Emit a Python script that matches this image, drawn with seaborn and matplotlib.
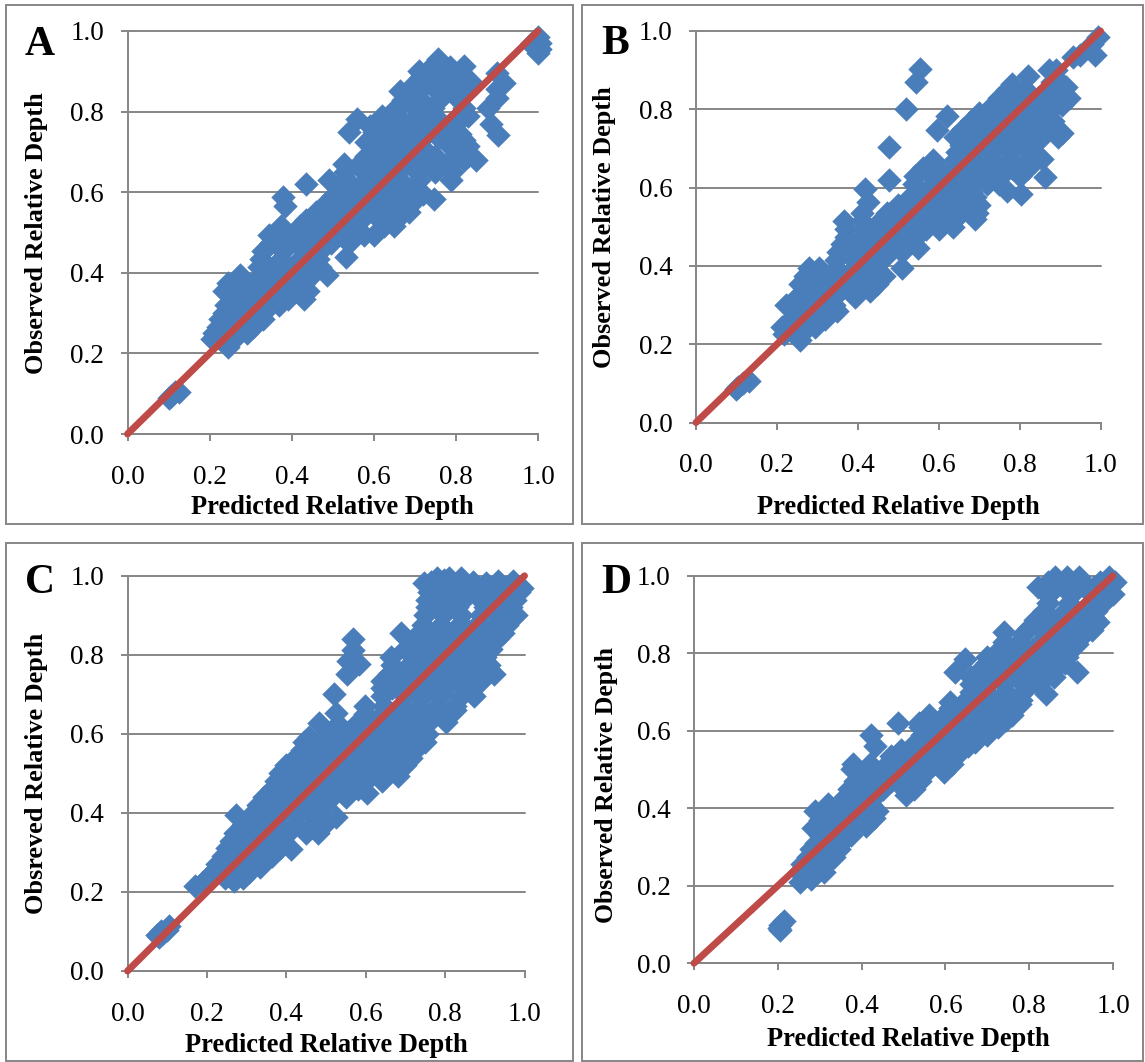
import matplotlib
matplotlib.use("Agg")
import matplotlib.pyplot as plt
from matplotlib.patches import Rectangle
import pandas as pd
import seaborn as sns

# values: (predicted, observed)
a_points = [
    (.10, .09), (.105, .095), (.115, .105), (.125, .105),
    (.245, .215), (.205, .235), (.225, .235), (.26, .235),
    (.21, .25), (.25, .25), (.29, .25), (.22, .265), (.265, .265), (.305, .265),
    (.225, .285), (.27, .285), (.315, .285), (.33, .285),
    (.235, .30), (.285, .30), (.33, .30), (.24, .32), (.285, .32), (.33, .32), (.37, .32),
    (.26, .335), (.305, .335), (.35, .335), (.39, .335), (.43, .335),
    (.235, .355), (.28, .355), (.325, .355), (.37, .355), (.41, .355), (.44, .355),
    (.245, .375), (.29, .375), (.34, .375), (.385, .375), (.43, .375),
    (.275, .395), (.325, .395), (.37, .395), (.415, .395), (.45, .395), (.487, .395),
    (.32, .415), (.36, .415), (.405, .415), (.45, .415), (.47, .415),
    (.325, .435), (.375, .435), (.42, .435), (.465, .435), (.532, .44),
    (.33, .455), (.38, .455), (.43, .455), (.47, .455),
    (.35, .475), (.395, .475), (.44, .475), (.495, .475), (.54, .475),
    (.345, .495), (.385, .495), (.43, .495), (.475, .495), (.52, .495), (.575, .495), (.60, .495),
    (.375, .515), (.42, .515), (.465, .515), (.51, .515), (.555, .515), (.625, .515), (.65, .515),
    (.435, .53), (.48, .53), (.525, .53), (.57, .53), (.615, .53), (.655, .53),
    (.46, .55), (.505, .55), (.55, .55), (.595, .55), (.64, .55), (.685, .55),
    (.384, .565), (.48, .57), (.52, .57), (.565, .57), (.61, .57), (.655, .57), (.69, .57),
    (.747, .583), (.38, .589), (.50, .59), (.545, .59), (.59, .59), (.635, .59), (.68, .59), (.72, .595),
    (.52, .61), (.565, .61), (.61, .61), (.65, .61), (.695, .61), (.436, .62),
    (.49, .63), (.535, .63), (.58, .63), (.625, .63), (.665, .63), (.71, .63), (.787, .63),
    (.53, .65), (.575, .65), (.62, .65), (.66, .65), (.705, .65), (.75, .65), (.79, .65),
    (.527, .67), (.565, .67), (.61, .67), (.65, .67), (.695, .67), (.74, .67), (.78, .67), (.82, .68), (.85, .68),
    (.58, .69), (.625, .69), (.665, .69), (.71, .69), (.75, .69), (.795, .69), (.83, .69),
    (.60, .71), (.64, .71), (.68, .71), (.72, .71), (.79, .71), (.83, .715),
    (.58, .725), (.62, .73), (.66, .73), (.70, .73), (.76, .735), (.79, .73), (.82, .73),
    (.54, .75), (.60, .75), (.645, .75), (.69, .75), (.735, .75), (.78, .75), (.81, .745),
    (.59, .765), (.625, .77), (.67, .77), (.715, .77), (.76, .77), (.80, .77), (.885, .77),
    (.56, .782), (.62, .79), (.66, .79), (.705, .79), (.75, .79), (.805, .79), (.83, .79),
    (.655, .81), (.70, .81), (.745, .81), (.82, .81), (.877, .81), (.903, .742),
    (.67, .83), (.715, .83), (.76, .83), (.80, .835), (.90, .834),
    (.665, .85), (.71, .85), (.755, .85), (.795, .85), (.835, .855), (.90, .855),
    (.68, .845), (.70, .87), (.745, .87), (.79, .87), (.835, .875), (.917, .872),
    (.715, .885), (.76, .89), (.80, .89), (.90, .897), (.71, .90), (.74, .91), (.785, .91), (.82, .914), (.757, .93),
    (.985, .97), (.99, .96), (1.0, .985), (1.005, .97), (1.005, .955), (1.0, .945),
]

b_points = [
    (.10, .085), (.105, .09), (.115, .10), (.13, .105),
    (.256, .21), (.217, .225), (.26, .225), (.213, .245), (.255, .245), (.295, .245),
    (.235, .265), (.28, .265), (.32, .265), (.24, .285), (.285, .285), (.33, .285), (.348, .285),
    (.222, .30), (.265, .30), (.31, .30), (.34, .30), (.25, .32), (.295, .32), (.34, .32), (.393, .32),
    (.27, .335), (.31, .335), (.355, .335), (.40, .335), (.43, .335),
    (.258, .355), (.30, .355), (.34, .355), (.385, .355), (.43, .355), (.447, .355),
    (.27, .375), (.315, .375), (.36, .375), (.405, .375), (.45, .375), (.465, .375),
    (.28, .395), (.305, .395), (.345, .395), (.39, .395), (.435, .395), (.51, .395),
    (.345, .415), (.39, .415), (.43, .415), (.465, .42),
    (.35, .435), (.395, .435), (.44, .435), (.48, .44), (.51, .435),
    (.361, .455), (.405, .455), (.45, .455), (.495, .455), (.525, .46), (.55, .445),
    (.37, .475), (.41, .475), (.455, .475), (.50, .475), (.545, .475),
    (.37, .495), (.42, .495), (.46, .495), (.505, .495), (.55, .495), (.568, .495), (.60, .495), (.635, .50),
    (.366, .515), (.41, .515), (.455, .515), (.50, .515), (.545, .515), (.59, .515), (.635, .515), (.689, .519),
    (.41, .535), (.473, .535), (.52, .535), (.565, .535), (.61, .535), (.655, .535), (.695, .535),
    (.424, .563), (.50, .555), (.545, .555), (.59, .555), (.635, .555), (.68, .555), (.70, .555),
    (.53, .575), (.575, .575), (.62, .575), (.665, .575), (.69, .575),
    (.418, .596), (.77, .592), (.804, .583), (.55, .59), (.595, .59), (.64, .59), (.68, .59),
    (.54, .61), (.585, .61), (.63, .61), (.675, .61), (.72, .61), (.75, .61), (.476, .62),
    (.541, .63), (.58, .63), (.625, .63), (.67, .63), (.71, .63), (.755, .63), (.80, .63), (.862, .627),
    (.56, .65), (.60, .65), (.645, .65), (.69, .65), (.735, .65), (.78, .65), (.82, .65),
    (.586, .67), (.64, .67), (.685, .67), (.73, .67), (.775, .67), (.82, .67), (.855, .672),
    (.645, .69), (.69, .69), (.735, .69), (.78, .69), (.83, .69), (.476, .703),
    (.655, .71), (.70, .71), (.745, .71), (.79, .71), (.835, .71),
    (.64, .73), (.68, .73), (.72, .73), (.765, .73), (.81, .73), (.84, .73), (.865, .74), (.895, .73),
    (.597, .748), (.66, .75), (.70, .75), (.745, .75), (.79, .75), (.835, .75), (.905, .74),
    (.68, .77), (.72, .77), (.765, .77), (.81, .77), (.855, .77), (.882, .77), (.62, .782),
    (.70, .79), (.74, .79), (.785, .79), (.83, .79), (.87, .79), (.52, .80),
    (.734, .81), (.775, .81), (.82, .81), (.865, .81), (.905, .81),
    (.748, .83), (.79, .83), (.845, .83), (.89, .83), (.923, .83),
    (.77, .85), (.815, .85), (.87, .85), (.914, .856), (.545, .87), (.78, .865), (.88, .87), (.90, .87),
    (.82, .886), (.553, .903), (.873, .90), (.89, .90),
    (.932, .933), (.95, .938), (.986, .938), (.98, .968), (.995, .985),
]

c_points = [
    (.075, .09), (.08, .085), (.085, .10), (.09, .095), (.10, .105), (.105, .115),
    (.171, .215), (.19, .225), (.268, .227), (.20, .235), (.245, .235), (.29, .235),
    (.215, .25), (.26, .25), (.305, .25), (.333, .262), (.285, .262), (.225, .27), (.27, .27), (.315, .27),
    (.24, .29), (.285, .29), (.33, .29), (.365, .29), (.25, .31), (.295, .31), (.34, .31), (.412, .309), (.385, .31),
    (.26, .33), (.305, .33), (.35, .33), (.39, .33),
    (.27, .35), (.315, .35), (.36, .35), (.405, .35), (.45, .35), (.48, .35),
    (.29, .37), (.33, .37), (.375, .37), (.42, .37), (.465, .37), (.495, .37),
    (.273, .395), (.31, .395), (.345, .395), (.385, .395), (.43, .395), (.47, .395), (.524, .39),
    (.329, .42), (.36, .42), (.405, .42), (.45, .42), (.495, .42),
    (.345, .44), (.385, .44), (.43, .44), (.475, .44), (.515, .44), (.55, .44),
    (.356, .451), (.603, .451), (.365, .46), (.405, .46), (.45, .46), (.495, .46), (.54, .46), (.58, .46),
    (.375, .48), (.42, .48), (.465, .48), (.51, .48), (.555, .48), (.60, .48), (.64, .48), (.682, .494),
    (.385, .50), (.43, .50), (.475, .50), (.52, .50), (.565, .50), (.61, .50), (.655, .50),
    (.40, .52), (.445, .52), (.49, .52), (.535, .52), (.58, .52), (.625, .52), (.67, .52), (.70, .52),
    (.426, .545), (.46, .54), (.505, .54), (.55, .54), (.595, .54), (.64, .54), (.685, .54), (.715, .54),
    (.44, .56), (.485, .56), (.53, .56), (.575, .56), (.62, .56), (.665, .56), (.71, .56), (.725, .56),
    (.445, .58), (.50, .58), (.545, .58), (.59, .58), (.635, .58), (.68, .58), (.725, .58), (.75, .58),
    (.457, .592), (.51, .60), (.56, .60), (.605, .60), (.65, .60), (.695, .60), (.74, .60), (.755, .60),
    (.482, .627), (.53, .625), (.575, .625), (.62, .625), (.665, .625), (.71, .625), (.755, .625), (.802, .631),
    (.524, .652), (.598, .65), (.64, .65), (.68, .65), (.725, .65), (.77, .65), (.81, .65), (.825, .661),
    (.598, .67), (.645, .67), (.69, .67), (.735, .67), (.78, .67), (.825, .67),
    (.519, .70), (.64, .695), (.70, .695), (.745, .695), (.79, .695), (.84, .695), (.872, .695),
    (.64, .715), (.665, .715), (.71, .715), (.755, .715), (.80, .715), (.85, .715),
    (.64, .735), (.68, .735), (.725, .735), (.77, .735), (.815, .735), (.86, .735), (.89, .735),
    (.552, .751), (.66, .755), (.695, .755), (.74, .755), (.785, .755), (.83, .755), (.875, .755), (.923, .751),
    (.584, .777), (.556, .785), (.665, .775), (.71, .775), (.755, .775), (.80, .775), (.845, .775), (.89, .775), (.91, .775),
    (.663, .794), (.72, .795), (.765, .795), (.81, .795), (.855, .795), (.90, .795),
    (.568, .811), (.70, .815), (.735, .815), (.78, .815), (.825, .815), (.87, .815), (.915, .815),
    (.568, .841), (.72, .84), (.75, .84), (.795, .84), (.84, .84), (.885, .84), (.93, .84),
    (.689, .854), (.74, .855), (.78, .855), (.82, .855), (.86, .86), (.90, .855), (.945, .855),
    (.745, .875), (.79, .875), (.835, .875), (.88, .875), (.925, .875), (.955, .875),
    (.75, .90), (.795, .90), (.84, .90), (.89, .90), (.935, .90), (.979, .901),
    (.755, .92), (.80, .92), (.83, .92), (.90, .92), (.925, .93), (.945, .92), (.965, .92),
    (.755, .94), (.78, .93), (.805, .94), (.82, .945), (.85, .945), (.89, .94), (.955, .94), (.975, .94),
    (.76, .96), (.78, .97), (.805, .96), (.83, .97), (.85, .96), (.875, .96), (.90, .96), (.945, .96), (.985, .96), (.993, .97),
    (.747, .983), (.765, .985), (.797, .99), (.84, .995), (.87, .985), (.904, .983), (.932, .987), (.97, .987),
    (.78, .995), (.81, .995),
]

d_points = [
    (.206, .086), (.202, .09), (.206, .099), (.215, .108),
    (.252, .21), (.28, .217), (.25, .235), (.29, .235), (.31, .235),
    (.258, .255), (.30, .255), (.315, .255), (.271, .275), (.31, .275), (.335, .275),
    (.28, .295), (.32, .295), (.345, .295), (.29, .31), (.33, .31), (.35, .31), (.30, .33), (.34, .33), (.375, .33),
    (.284, .35), (.33, .35), (.375, .35), (.41, .355), (.30, .37), (.345, .37), (.39, .37), (.43, .375),
    (.289, .392), (.33, .392), (.375, .392), (.415, .392), (.436, .392),
    (.32, .41), (.355, .41), (.40, .41), (.42, .41), (.36, .43), (.40, .43), (.43, .43), (.507, .434),
    (.371, .45), (.41, .45), (.45, .45), (.50, .45), (.525, .45),
    (.385, .47), (.43, .47), (.47, .47), (.51, .47), (.54, .47),
    (.40, .49), (.45, .49), (.49, .49), (.53, .49), (.553, .494), (.597, .493),
    (.376, .501), (.42, .50), (.38, .515), (.419, .515), (.46, .515), (.50, .515), (.545, .515), (.585, .515), (.615, .515),
    (.471, .535), (.515, .535), (.56, .535), (.60, .535), (.631, .54),
    (.493, .55), (.535, .55), (.58, .55), (.62, .55), (.653, .56),
    (.432, .561), (.53, .57), (.565, .57), (.60, .57), (.645, .57), (.67, .57),
    (.423, .59), (.545, .59), (.585, .59), (.625, .59), (.665, .59), (.70, .59),
    (.54, .61), (.58, .61), (.62, .61), (.66, .61), (.705, .61), (.725, .61), (.488, .619), (.536, .619),
    (.562, .64), (.60, .64), (.64, .64), (.68, .64), (.725, .64), (.744, .628), (.76, .64),
    (.61, .66), (.66, .66), (.70, .66), (.745, .66), (.779, .67),
    (.61, .675), (.65, .68), (.69, .68), (.735, .68), (.78, .68),
    (.66, .70), (.70, .70), (.745, .70), (.785, .70), (.841, .696),
    (.66, .72), (.70, .72), (.74, .72), (.785, .72), (.82, .72),
    (.662, .74), (.705, .74), (.75, .74), (.795, .74), (.84, .74), (.86, .74),
    (.623, .751), (.68, .755), (.72, .755), (.765, .755), (.81, .755), (.855, .755), (.913, .751),
    (.70, .775), (.74, .775), (.785, .775), (.83, .775), (.875, .775), (.885, .775),
    (.647, .784), (.70, .79), (.75, .79), (.795, .79), (.84, .79), (.89, .79),
    (.73, .81), (.765, .81), (.81, .81), (.855, .81), (.90, .81),
    (.74, .83), (.775, .83), (.825, .83), (.87, .83), (.915, .825),
    (.74, .855), (.785, .85), (.84, .85), (.885, .85), (.93, .85), (.95, .86),
    (.80, .865), (.855, .87), (.90, .87), (.945, .87), (.965, .88),
    (.815, .885), (.83, .89), (.87, .89), (.915, .89), (.955, .89),
    (.835, .91), (.885, .91), (.93, .91), (.96, .91),
    (.845, .93), (.895, .93), (.945, .93), (.975, .93),
    (.845, .95), (.90, .95), (.95, .95), (.985, .95), (1.0, .952),
    (.822, .97), (.865, .97), (.91, .97), (.955, .97), (.99, .97),
    (.845, .985), (.88, .985), (.925, .985), (.97, .985), (1.005, .985),
    (.861, .996), (.89, .996), (.918, .996), (.991, .996),
]

line_x = [0.0, 1.0]
line_y = [0.0, 1.0]
ticks = [0.0, 0.2, 0.4, 0.6, 0.8, 1.0]
letters = ["A", "B", "C", "D"]
x_title = "Predicted Relative Depth"
y_titles = ["Observed Relative Depth", "Observed Relative Depth",
            "Obsreved Relative Depth", "Observed Relative Depth"]

W, H = 1145, 1062
GRAY = "#868686"
BLUE = "#4A7EBB"
RED = "#BE4B48"

sns.set_theme(style="white")
plt.rcParams["font.family"] = ["Liberation Serif", "DejaVu Serif"]
plt.rcParams["text.color"] = "black"

# pixel layout of the four boxes: frame, axes, letter, x title, y title
layout = [
    dict(frame=(6, 5, 573, 524), axes=(127.5, 31, 538, 434), letter=(40, 45), xt=(332, 508), yt=(37, 233), ysize=18.9),
    dict(frame=(581.5, 5, 1143, 524), axes=(696, 31, 1100.5, 422.5), letter=(615, 44), xt=(898, 508), yt=(605, 227), ysize=18.9),
    dict(frame=(6, 543.5, 573, 1060.5), axes=(127.5, 575.8, 524.5, 971), letter=(40, 583), xt=(326, 1045), yt=(37, 773), ysize=18.9),
    dict(frame=(581.5, 543.5, 1143, 1060.5), axes=(694, 575.8, 1113, 963.2), letter=(616, 583), xt=(908, 1040), yt=(607, 785), ysize=18.5),
]


def fx(px):
    return px / W


def fy(py):
    return 1 - py / H


def draw_panel(fig, points, spec, letter, y_title):
    x0, y0, x1, y1 = spec["frame"]
    fig.add_artist(Rectangle((fx(x0), fy(y1)), fx(x1) - fx(x0), fy(y0) - fy(y1),
                             transform=fig.transFigure, facecolor="white",
                             edgecolor=GRAY, linewidth=1.4, zorder=-1))

    ax0, ay0, ax1, ay1 = spec["axes"]
    ax = fig.add_axes([fx(ax0), fy(ay1), fx(ax1) - fx(ax0), fy(ay0) - fy(ay1)])
    ax.patch.set_alpha(0)

    df = pd.DataFrame(points, columns=["predicted", "observed"])
    sns.scatterplot(data=df, x="predicted", y="observed", marker="D", s=155,
                    color=BLUE, linewidth=0, clip_on=False, zorder=3, ax=ax)
    sns.lineplot(x=line_x, y=line_y, color=RED, linewidth=5, errorbar=None,
                 clip_on=False, zorder=4, ax=ax)

    ax.set_xlim(0, 1)
    ax.set_ylim(0, 1)
    ax.set_xticks(ticks)
    ax.set_yticks(ticks)
    ax.set_xticklabels([f"{t:.1f}" for t in ticks])
    ax.set_yticklabels([f"{t:.1f}" for t in ticks])
    ax.set_xlabel("")
    ax.set_ylabel("")
    ax.grid(axis="y", color=GRAY, linewidth=1.4, clip_on=False)
    ax.set_axisbelow(True)
    sns.despine(ax=ax)
    for side in ["left", "bottom"]:
        ax.spines[side].set_color(GRAY)
        ax.spines[side].set_linewidth(1.4)
    ax.tick_params(axis="x", length=5, width=1.4, color=GRAY, labelsize=19.5, labelcolor="black", pad=17, bottom=True)
    ax.tick_params(axis="y", length=5, width=1.4, color=GRAY, labelsize=19.5, labelcolor="black", pad=12, left=True)

    fig.text(fx(spec["letter"][0]), fy(spec["letter"][1]), letter, fontsize=30,
             fontweight="bold", ha="center", va="center", zorder=6)
    fig.text(fx(spec["xt"][0]), fy(spec["xt"][1]), x_title, fontsize=19.1,
             fontweight="bold", ha="center", va="center", zorder=6)
    fig.text(fx(spec["yt"][0]), fy(spec["yt"][1]), y_title, fontsize=spec["ysize"],
             fontweight="bold", rotation=90, ha="center", va="center", zorder=6)


fig = plt.figure(figsize=(W / 100, H / 100), dpi=100, facecolor="white")
for points, spec, letter, y_title in zip([a_points, b_points, c_points, d_points], layout, letters, y_titles):
    draw_panel(fig, points, spec, letter, y_title)

fig.savefig("out.png", dpi=100)
plt.close(fig)
